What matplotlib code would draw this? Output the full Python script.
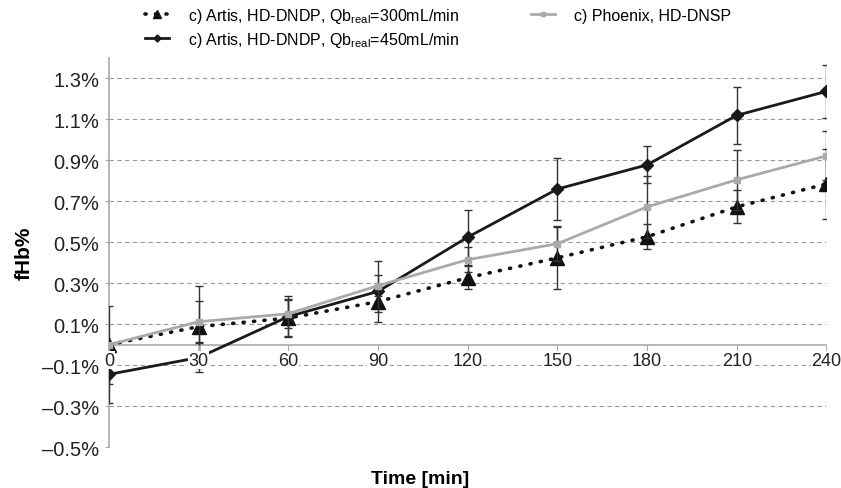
import matplotlib.pyplot as plt
from matplotlib.ticker import FuncFormatter

plt.rcParams['font.family'] = ['Liberation Sans', 'DejaVu Sans']
plt.rcParams['mathtext.default'] = 'regular'

time_min = [0, 30, 60, 90, 120, 150, 180, 210, 240]

# fHb % values
artis_300 = [0.00, 0.088, 0.13, 0.21, 0.327, 0.424, 0.527, 0.673, 0.785]
artis_300_err = [0.19, 0.20, 0.09, 0.05, 0.055, 0.15, 0.06, 0.08, 0.17]
artis_450 = [-0.145, -0.063, 0.137, 0.26, 0.525, 0.76, 0.878, 1.12, 1.237]
artis_450_err = [0.14, 0.07, 0.10, 0.15, 0.135, 0.15, 0.09, 0.14, 0.13]
phoenix = [0.00, 0.112, 0.151, 0.288, 0.415, 0.493, 0.673, 0.805, 0.922]
phoenix_err = [0.01, 0.10, 0.07, 0.05, 0.06, 0.085, 0.15, 0.145, 0.12]

labels = [r'c) Artis, HD-DNDP, Qb$_{real}$=300mL/min',
          r'c) Artis, HD-DNDP, Qb$_{real}$=450mL/min',
          'c) Phoenix, HD-DNSP']
yticks = [-0.5, -0.3, -0.1, 0.1, 0.3, 0.5, 0.7, 0.9, 1.1, 1.3]

fig = plt.figure(figsize=(8.41, 4.89), dpi=100)
ax = fig.add_axes([0.1296, 0.0838, 0.853, 0.7955])

eb = dict(capsize=3, elinewidth=1, capthick=1, ecolor='#333333')
l1 = ax.errorbar(time_min, artis_300, yerr=artis_300_err, color='#111111', lw=2.6,
                 linestyle=(0, (0.3, 2.6)), dash_capstyle='round', marker='^',
                 markersize=10, zorder=3, **eb)
l2 = ax.errorbar(time_min, artis_450, yerr=artis_450_err, color='#1a1a1a', lw=2,
                 marker='D', markersize=6, zorder=4, **eb)
l3 = ax.errorbar(time_min, phoenix, yerr=phoenix_err, color='#aaaaaa', lw=2,
                 marker='s', markersize=5, zorder=5, **eb)

ax.set_xlim(0, 240)
ax.set_ylim(-0.5, 1.4)
ax.set_xticks(time_min)
ax.set_yticks(yticks)
ax.yaxis.set_major_formatter(FuncFormatter(lambda v, p: f'{v:.1f}%'.replace('-', '\u2013')))
ax.grid(axis='y', color='#999999', linestyle=(0, (4, 3)), linewidth=0.8)
ax.set_axisbelow(True)
ax.xaxis.set_zorder(6)

for s in ['top', 'right']:
    ax.spines[s].set_visible(False)
ax.spines['bottom'].set_position(('data', 0))
ax.spines['bottom'].set_color('#aaaaaa')
ax.spines['bottom'].set_linewidth(1.2)
ax.spines['bottom'].set_zorder(2)
ax.spines['left'].set_color('#aaaaaa')
ax.spines['left'].set_linewidth(1.2)

ax.tick_params(axis='x', colors='#aaaaaa', labelcolor='#222222', labelsize=13,
               length=4, pad=1)
ax.tick_params(axis='y', colors='#aaaaaa', labelcolor='#222222', labelsize=14.5,
               length=3, pad=4)
for t in ax.get_xticklabels():
    t.set_bbox(dict(facecolor='white', edgecolor='none', pad=0.5))

ax.set_ylabel('fHb%', fontsize=15, fontweight='bold', labelpad=6)
fig.text(0.5, 0.01, 'Time [min]', ha='center', fontsize=14, fontweight='bold')

fig.legend([l1[0], l2[0], l3[0]], labels, ncol=2, loc='upper left',
           bbox_to_anchor=(0.155, 1.015), frameon=False, fontsize=11.5,
           handlelength=1.5, handletextpad=1.2, columnspacing=4.5,
           labelspacing=0.3, markerscale=0.6)

fig.savefig('out.png', dpi=100)
